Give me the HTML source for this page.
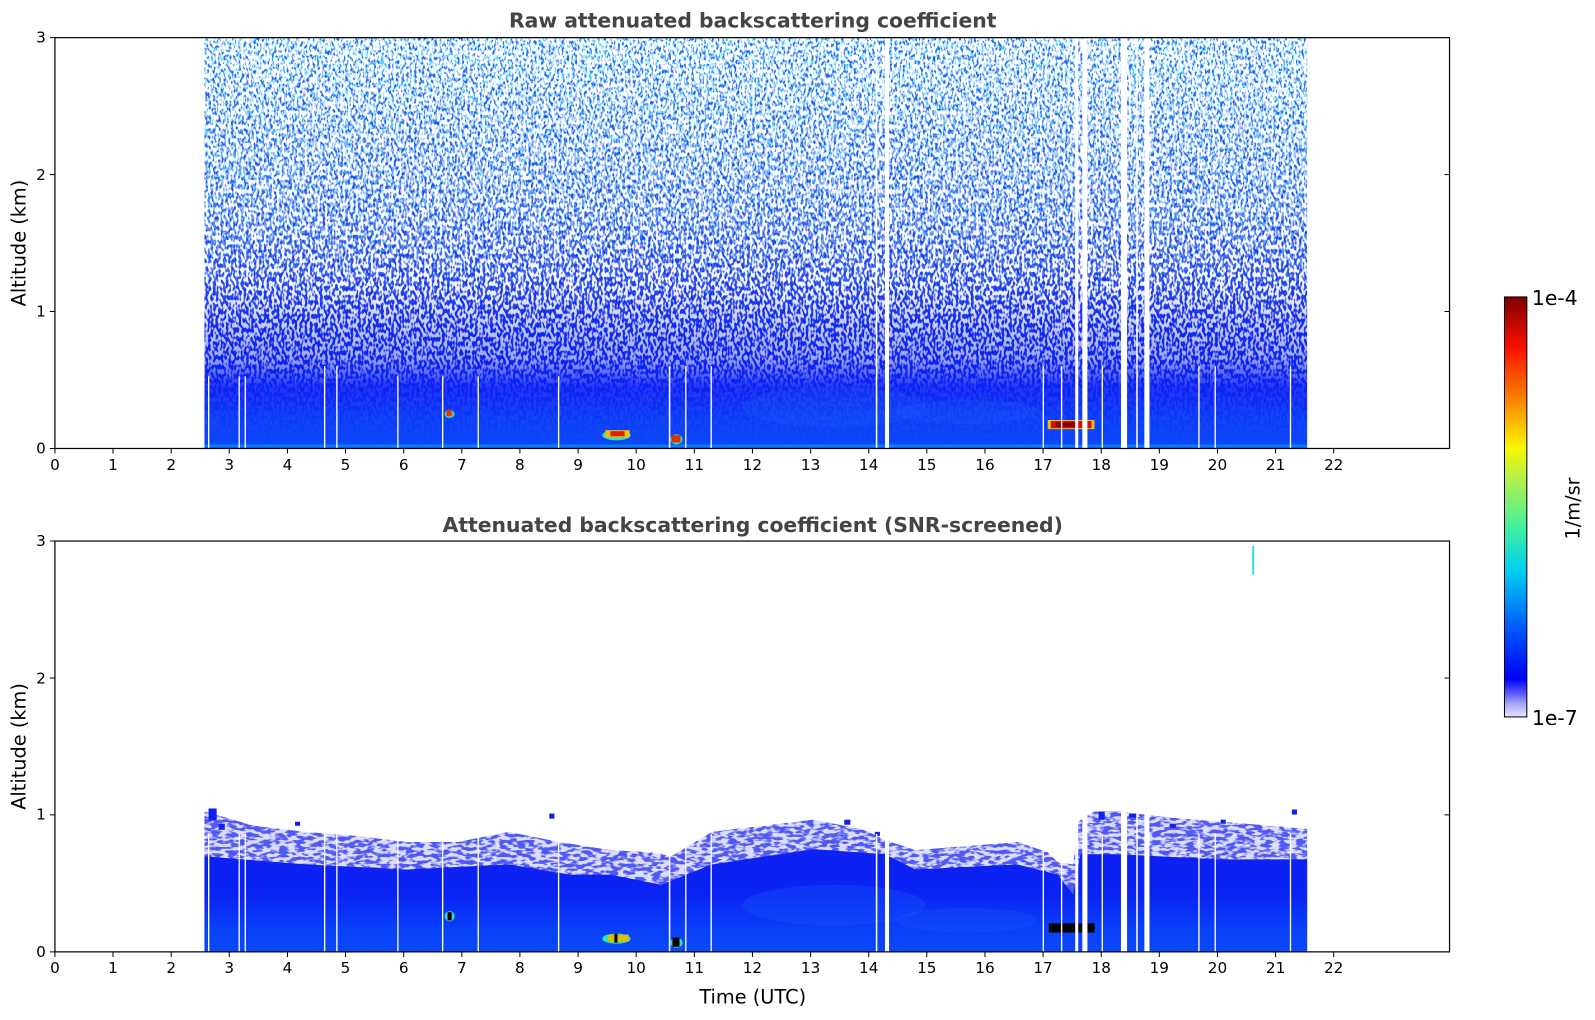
<!DOCTYPE html>
<html><head><meta charset="utf-8"><style>html,body{margin:0;padding:0;background:#fff}svg{display:block}</style></head>
<body>
<svg width="1595" height="1020" viewBox="0 0 1568 1003" preserveAspectRatio="none" xmlns="http://www.w3.org/2000/svg" font-family="'DejaVu Sans','Liberation Sans',sans-serif">
<defs>
<linearGradient id="tg" x1="0" y1="37" x2="0" y2="441" gradientUnits="userSpaceOnUse">
<stop offset="0" stop-color="#2068f0"/><stop offset="0.4" stop-color="#1a4cf0"/><stop offset="0.65" stop-color="#1430f0"/>
<stop offset="0.8" stop-color="#0c22f2"/><stop offset="0.86" stop-color="#0a22f4"/><stop offset="0.93" stop-color="#0a3cf8"/><stop offset="1" stop-color="#0a48f8"/></linearGradient>
<linearGradient id="wm" x1="0" y1="37" x2="0" y2="441" gradientUnits="userSpaceOnUse">
<stop offset="0" stop-color="#fff" stop-opacity="1"/><stop offset="0.6" stop-color="#fff" stop-opacity="0.95"/><stop offset="0.78" stop-color="#fff" stop-opacity="0.6"/><stop offset="0.85" stop-color="#fff" stop-opacity="0.1"/><stop offset="1" stop-color="#fff" stop-opacity="0"/></linearGradient>
<mask id="m1"><rect x="0" y="37" width="1568" height="404" fill="url(#wm)"/></mask>
<linearGradient id="cm" x1="0" y1="37" x2="0" y2="441" gradientUnits="userSpaceOnUse">
<stop offset="0" stop-color="#fff" stop-opacity="1"/><stop offset="0.45" stop-color="#fff" stop-opacity="0.5"/><stop offset="0.65" stop-color="#fff" stop-opacity="0"/></linearGradient>
<mask id="m2"><rect x="0" y="37" width="1568" height="404" fill="url(#cm)"/></mask>
<linearGradient id="em" x1="0" y1="37" x2="0" y2="441" gradientUnits="userSpaceOnUse">
<stop offset="0" stop-color="#fff" stop-opacity="0.9"/><stop offset="0.4" stop-color="#fff" stop-opacity="0.5"/><stop offset="0.7" stop-color="#fff" stop-opacity="0"/></linearGradient>
<mask id="m3"><rect x="0" y="37" width="1568" height="404" fill="url(#em)"/></mask>
<filter id="nw" x="0" y="0" width="1" height="1"><feTurbulence type="fractalNoise" baseFrequency="0.4 0.22" numOctaves="1" seed="3"/>
<feColorMatrix values="0 0 0 0 1  0 0 0 0 1  0 0 0 0 1  9 0 0 0 -4.0"/></filter>
<filter id="nw2" x="0" y="0" width="1" height="1"><feTurbulence type="fractalNoise" baseFrequency="0.5 0.3" numOctaves="1" seed="21"/>
<feColorMatrix values="0 0 0 0 1  0 0 0 0 1  0 0 0 0 1  9 0 0 0 -4.2"/></filter>
<filter id="nc" x="0" y="0" width="1" height="1"><feTurbulence type="fractalNoise" baseFrequency="0.45 0.25" numOctaves="1" seed="11"/>
<feColorMatrix values="0 0 0 0 0.1  0 0 0 0 0.8  0 0 0 0 0.95  10 0 0 0 -4.9"/></filter>
<filter id="nf" x="0" y="0" width="1" height="1"><feTurbulence type="fractalNoise" baseFrequency="0.12 0.3" numOctaves="2" seed="5"/>
<feColorMatrix values="0 0 0 0 1  0 0 0 0 1  0 0 0 0 1  7 0 0 0 -3.0"/></filter>
<linearGradient id="bg" x1="0" y1="790" x2="0" y2="936" gradientUnits="userSpaceOnUse">
<stop offset="0" stop-color="#1020f0"/><stop offset="0.6" stop-color="#0a22f4"/><stop offset="0.85" stop-color="#0a40f8"/><stop offset="1" stop-color="#0a48f8"/></linearGradient>
<linearGradient id="cb" x1="0" y1="705" x2="0" y2="292" gradientUnits="userSpaceOnUse">
<stop offset="0" stop-color="#e4e4fa"/><stop offset="0.03" stop-color="#aaaaf8"/><stop offset="0.06" stop-color="#5050f8"/><stop offset="0.09" stop-color="#0000f8"/>
<stop offset="0.22" stop-color="#0060f8"/><stop offset="0.35" stop-color="#00d0f0"/><stop offset="0.45" stop-color="#40f0a0"/><stop offset="0.58" stop-color="#c0f040"/>
<stop offset="0.64" stop-color="#f8f800"/><stop offset="0.76" stop-color="#f88000"/><stop offset="0.88" stop-color="#f81000"/><stop offset="1" stop-color="#800000"/></linearGradient>
<clipPath id="fc"><polygon points="201,790 250,800 300,808 400,812 500,806 600,826 660,830 700,806 800,795 870,812 900,826 1000,818 1040,836 1055,840 1060,798 1285,800 1285,870 201,870"/></clipPath>
</defs>

<text x="740" y="27" text-anchor="middle" font-size="20" font-weight="bold" fill="#444">Raw attenuated backscattering coefficient</text>
<rect x="201" y="37" width="1084" height="404" fill="url(#tg)"/>
<g mask="url(#m2)"><rect x="201" y="37" width="1084" height="404" filter="url(#nc)"/></g>
<g mask="url(#m1)"><rect x="201" y="37" width="1084" height="404" filter="url(#nw)"/></g>
<g mask="url(#m3)"><rect x="201" y="37" width="1084" height="404" filter="url(#nw2)"/></g>
<ellipse cx="820" cy="400" rx="90" ry="20" fill="#1a60f8" opacity="0.25"/>
<ellipse cx="950" cy="405" rx="70" ry="12" fill="#1a60f8" opacity="0.25"/>
<rect x="201" y="437" width="1084" height="3" fill="#10a0f0" opacity="0.6"/>
<ellipse cx="442" cy="407" rx="5" ry="4" fill="#40d0a0"/><rect x="439" y="403" width="5" height="6" fill="#f03000"/>
<ellipse cx="606" cy="428" rx="14" ry="5" fill="#30e0b0"/><rect x="595" y="423" width="24" height="7" fill="#f0c000"/><rect x="600" y="424" width="14" height="5" fill="#e02000"/>
<ellipse cx="665" cy="432" rx="6" ry="5" fill="#30e0b0"/><rect x="660" y="428" width="9" height="7" fill="#e03000"/>
<rect x="1030" y="413" width="46" height="9" fill="#f0c000"/><rect x="1033" y="414" width="40" height="7" fill="#d01000"/><rect x="1038" y="415" width="20" height="5" fill="#900000"/>

<text x="740" y="523" text-anchor="middle" font-size="20" font-weight="bold" fill="#444">Attenuated backscattering coefficient (SNR-screened)</text>
<polygon fill="#5058f4" points="201,798 250,812 300,818 350,822 400,828 450,828 500,818 550,828 600,836 640,838 660,842 700,818 750,812 800,806 850,816 870,826 900,836 950,832 1000,828 1030,838 1040,848 1055,850 1060,808 1075,798 1100,798 1150,804 1200,808 1250,812 1285,815 1285,936 201,936"/>
<g clip-path="url(#fc)"><rect x="201" y="780" width="1084" height="90" filter="url(#nf)" opacity="0.8"/></g>
<polygon fill="url(#bg)" points="201,842 300,850 400,855 500,850 560,860 600,860 650,870 700,850 800,835 870,840 900,855 1000,850 1040,860 1055,880 1062,840 1100,840 1200,845 1285,845 1285,936 201,936"/>
<ellipse cx="820" cy="890" rx="90" ry="20" fill="#1a60f8" opacity="0.3"/>
<ellipse cx="950" cy="905" rx="70" ry="12" fill="#1a60f8" opacity="0.25"/>
<g fill="#1020f0"><rect x="205" y="795" width="8" height="12"/><rect x="215" y="810" width="6" height="6"/><rect x="290" y="808" width="5" height="4"/><rect x="540" y="800" width="5" height="5"/><rect x="830" y="806" width="6" height="5"/><rect x="860" y="818" width="5" height="4"/><rect x="1080" y="798" width="6" height="8"/><rect x="1110" y="800" width="8" height="4"/><rect x="1150" y="810" width="6" height="4"/><rect x="1200" y="806" width="5" height="4"/><rect x="1270" y="796" width="5" height="5"/></g>
<rect x="1231" y="537" width="2" height="28" fill="#30e0d0"/>
<ellipse cx="442" cy="901" rx="5" ry="5" fill="#40d0d0"/><rect x="440" y="897" width="4" height="8" fill="#000"/>
<ellipse cx="606" cy="923" rx="14" ry="5" fill="#30e0b0"/><rect x="598" y="919" width="20" height="7" fill="#e0c000"/><rect x="604" y="918" width="3" height="9" fill="#000"/>
<ellipse cx="665" cy="927" rx="6" ry="5" fill="#30e0b0"/><rect x="661" y="922" width="7" height="9" fill="#000"/>
<rect x="1031" y="908" width="45" height="9" fill="#000"/>

<g fill="#fff">
<rect x="204.5" y="370" width="1.3" height="71"/><rect x="234.5" y="370" width="1.3" height="71"/><rect x="240.5" y="370" width="1.3" height="71"/><rect x="318.5" y="360" width="1.3" height="81"/><rect x="330.5" y="360" width="1.3" height="81"/><rect x="390.5" y="370" width="1.3" height="71"/><rect x="434.5" y="370" width="1.3" height="71"/><rect x="469.5" y="370" width="1.3" height="71"/><rect x="548.5" y="370" width="1.3" height="71"/><rect x="657.5" y="360" width="1.5" height="81"/><rect x="673.5" y="360" width="1.3" height="81"/><rect x="698.5" y="360" width="1.3" height="81"/><rect x="861" y="37" width="1.5" height="404"/><rect x="870" y="37" width="4" height="404"/><rect x="1025" y="360" width="1.3" height="81"/><rect x="1043" y="360" width="1.3" height="81"/><rect x="1057" y="37" width="3" height="404"/><rect x="1064" y="37" width="5" height="404"/><rect x="1083" y="360" width="1.3" height="81"/><rect x="1102" y="37" width="6" height="404"/><rect x="1117" y="37" width="1.5" height="404"/><rect x="1125" y="37" width="5" height="404"/><rect x="1178" y="360" width="1.3" height="81"/><rect x="1194" y="360" width="1.3" height="81"/><rect x="1268" y="360" width="1.3" height="81"/>
</g>
<g fill="#fff">
<rect x="204.5" y="820" width="1.3" height="116"/><rect x="234.5" y="820" width="1.3" height="116"/><rect x="240.5" y="820" width="1.3" height="116"/><rect x="318.5" y="820" width="1.3" height="116"/><rect x="330.5" y="820" width="1.3" height="116"/><rect x="390.5" y="820" width="1.3" height="116"/><rect x="434.5" y="820" width="1.3" height="116"/><rect x="469.5" y="820" width="1.3" height="116"/><rect x="548.5" y="820" width="1.3" height="116"/><rect x="657.5" y="820" width="1.5" height="116"/><rect x="673.5" y="820" width="1.3" height="116"/><rect x="698.5" y="820" width="1.3" height="116"/><rect x="861" y="820" width="1.5" height="116"/><rect x="870" y="790" width="4" height="146"/><rect x="1025" y="820" width="1.3" height="116"/><rect x="1043" y="820" width="1.3" height="116"/><rect x="1057" y="790" width="3" height="146"/><rect x="1064" y="790" width="5" height="146"/><rect x="1083" y="820" width="1.3" height="116"/><rect x="1102" y="790" width="6" height="146"/><rect x="1117" y="790" width="1.5" height="146"/><rect x="1125" y="790" width="5" height="146"/><rect x="1178" y="820" width="1.3" height="116"/><rect x="1194" y="820" width="1.3" height="116"/><rect x="1268" y="820" width="1.3" height="116"/>
</g>

<rect x="54" y="37" width="1371" height="404" fill="none" stroke="#000" stroke-width="1.2"/>
<rect x="54" y="532" width="1371" height="404" fill="none" stroke="#000" stroke-width="1.2"/>
<g stroke="#000" stroke-width="1">
<path d="M54 441h-5M54 306.3h-5M54 171.7h-5M54 37h-5M1425 306.3h-5M1425 171.7h-5"/>
<path d="M54 936h-5M54 801.3h-5M54 666.7h-5M54 532h-5M1425 801.3h-5M1425 666.7h-5"/>
<path d="M54 441v5M111.1 441v5M168.3 441v5M225.4 441v5M282.6 441v5M339.7 441v5M396.9 441v5M454 441v5M511.1 441v5M568.3 441v5M625.4 441v5M682.6 441v5M739.7 441v5M796.9 441v5M854 441v5M911.1 441v5M968.3 441v5M1025.4 441v5M1082.6 441v5M1139.7 441v5M1196.9 441v5M1254 441v5M1311.1 441v5"/>
<path d="M54 936v5M111.1 936v5M168.3 936v5M225.4 936v5M282.6 936v5M339.7 936v5M396.9 936v5M454 936v5M511.1 936v5M568.3 936v5M625.4 936v5M682.6 936v5M739.7 936v5M796.9 936v5M854 936v5M911.1 936v5M968.3 936v5M1025.4 936v5M1082.6 936v5M1139.7 936v5M1196.9 936v5M1254 936v5M1311.1 936v5"/>
</g>
<g font-size="15" fill="#000" text-anchor="end">
<text x="45" y="446">0</text><text x="45" y="311">1</text><text x="45" y="177">2</text><text x="45" y="42">3</text>
<text x="45" y="941">0</text><text x="45" y="806">1</text><text x="45" y="672">2</text><text x="45" y="537">3</text>
</g>
<g font-size="15" fill="#000" text-anchor="middle">
<text x="54" y="462">0</text><text x="111.1" y="462">1</text><text x="168.3" y="462">2</text><text x="225.4" y="462">3</text><text x="282.6" y="462">4</text><text x="339.7" y="462">5</text><text x="396.9" y="462">6</text><text x="454" y="462">7</text><text x="511.1" y="462">8</text><text x="568.3" y="462">9</text><text x="625.4" y="462">10</text><text x="682.6" y="462">11</text><text x="739.7" y="462">12</text><text x="796.9" y="462">13</text><text x="854" y="462">14</text><text x="911.1" y="462">15</text><text x="968.3" y="462">16</text><text x="1025.4" y="462">17</text><text x="1082.6" y="462">18</text><text x="1139.7" y="462">19</text><text x="1196.9" y="462">20</text><text x="1254" y="462">21</text><text x="1311.1" y="462">22</text>
<text x="54" y="957">0</text><text x="111.1" y="957">1</text><text x="168.3" y="957">2</text><text x="225.4" y="957">3</text><text x="282.6" y="957">4</text><text x="339.7" y="957">5</text><text x="396.9" y="957">6</text><text x="454" y="957">7</text><text x="511.1" y="957">8</text><text x="568.3" y="957">9</text><text x="625.4" y="957">10</text><text x="682.6" y="957">11</text><text x="739.7" y="957">12</text><text x="796.9" y="957">13</text><text x="854" y="957">14</text><text x="911.1" y="957">15</text><text x="968.3" y="957">16</text><text x="1025.4" y="957">17</text><text x="1082.6" y="957">18</text><text x="1139.7" y="957">19</text><text x="1196.9" y="957">20</text><text x="1254" y="957">21</text><text x="1311.1" y="957">22</text>
<text x="740" y="987" font-size="19">Time (UTC)</text>
</g>
<text transform="translate(25,239) rotate(-90)" text-anchor="middle" font-size="19">Altitude (km)</text>
<text transform="translate(25,734) rotate(-90)" text-anchor="middle" font-size="19">Altitude (km)</text>

<rect x="1479" y="292" width="22" height="413" fill="url(#cb)" stroke="#000" stroke-width="1"/>
<text x="1506" y="300" font-size="20">1e-4</text>
<text x="1506" y="713" font-size="20">1e-7</text>
<text transform="translate(1553,500) rotate(-90)" text-anchor="middle" font-size="19">1/m/sr</text>
</svg>
</body></html>
